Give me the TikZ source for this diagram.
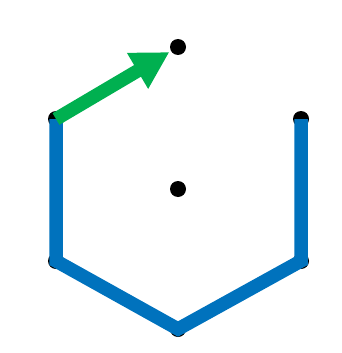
\documentclass[tikz,border=0pt]{standalone}
\usepackage{tikz}
\usetikzlibrary{arrows.meta}

\definecolor{hexblue}{RGB}{0,114,189}
\definecolor{hexgreen}{RGB}{0,176,80}

\tikzset{
  vdot/.style={circle, fill=black, inner sep=0pt, minimum size=16pt},
  hexedge/.style={hexblue, line width=13.5pt},
  hexarrow/.style={hexgreen, line width=13.5pt, shorten >=10pt,
    -{Triangle[length=37pt, width=39pt]}}
}

\begin{document}
\begin{tikzpicture}[x=1pt, y=-1pt]
\useasboundingbox (0,0) rectangle (341,353);

%--- VERTICES AND CENTRE ---
\node[vdot] (top) at (178, 47) {};
\node[vdot] (ul)  at (56, 119) {};
\node[vdot] (ur)  at (301, 119) {};
\node[vdot] (ll)  at (56, 261) {};
\node[vdot] (lr)  at (301, 261) {};
\node[vdot] (bot) at (178, 329) {};
\node[vdot] (c)   at (178, 189) {};

%--- BLUE PATH ---
\draw[hexedge] (ul.center) -- (ll.center) -- (bot.center) -- (lr.center) -- (ur.center);

%--- GREEN ARROW ---
\draw[hexarrow] (ul.center) -- (top.center);

\end{tikzpicture}
\end{document}
